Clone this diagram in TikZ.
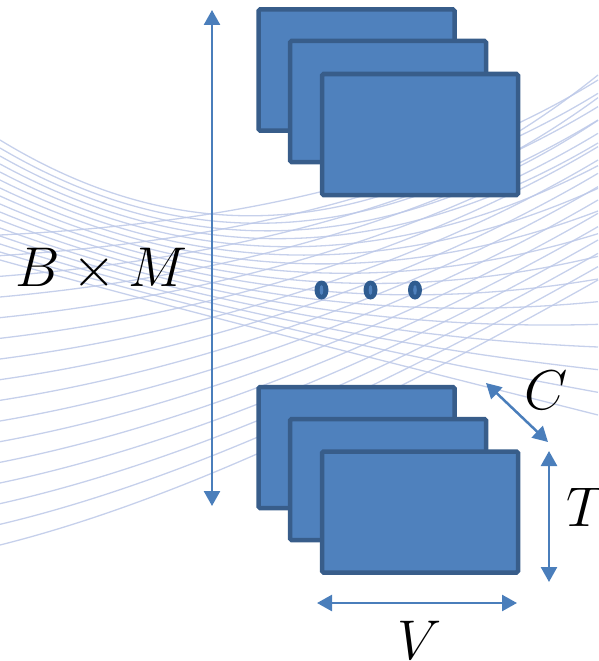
\RequirePackage{fix-cm}
\documentclass[tikz,border=0pt]{standalone}
\usetikzlibrary{arrows.meta,shapes.geometric}
\definecolor{boxfill}{HTML}{4F81BD}
\definecolor{boxline}{HTML}{385D8A}
\definecolor{arrowc}{HTML}{4A7EBB}
\definecolor{wave}{RGB}{188,200,232}
\definecolor{dotc}{HTML}{2F5C90}
\tikzset{
  frame/.style={draw=boxline, fill=boxfill, line width=4.5pt, rounded corners=1.5pt,
    minimum width=196pt, minimum height=121pt, inner sep=0pt},
  waveline/.style={draw=wave, line width=1.3pt, opacity=0.85},
  dimarrow/.style={draw=arrowc, line width=2.5pt,
    {Triangle[width=16pt,length=15pt]}-{Triangle[width=16pt,length=15pt]}},
  dotnode/.style={ellipse, fill=dotc, minimum width=14pt, minimum height=19pt, inner sep=0pt},
  biglabel/.style={font=\fontsize{56}{60}\selectfont, inner sep=0pt}
}
\begin{document}
\begin{tikzpicture}[x=1pt,y=-1pt]
\useasboundingbox (0,0) rectangle (598,661);
% background waves
\foreach \i in {0,...,15}{
  \pgfmathsetmacro\t{\i/15}
  \draw[waveline] (0,{140+120*\t}) .. controls (180,{250+60*\t}) and (380,{250+110*\t}) .. (598,{75+340*\t});
  \draw[waveline] (0,{235+310*\t}) .. controls (200,{225+270*\t}) and (420,{190+190*\t}) .. (598,{80+200*\t});
}
% top stack
\node[frame] (t1) at (356.5,70) {};
\node[frame] (t2) at (388,101.5) {};
\node[frame] (t3) at (420,134.5) {};
% bottom stack
\node[frame] (b1) at (356.5,447.5) {};
\node[frame] (b2) at (388,479.5) {};
\node[frame] (b3) at (420,512) {};
% dots
\foreach \n/\x in {d1/321.5, d2/370.5, d3/415}{
  \node[dotnode] (\n) at (\x,290) {};
  \fill[boxfill] (\n.center) ellipse (1.8pt and 5pt);
}
% dimension arrows
\coordinate (vtop) at (212,10);
\coordinate (vbot) at (212,506);
\draw[dimarrow] (vtop) -- (vbot);
\coordinate (ca) at (486,383);
\coordinate (cb) at (548,442);
\draw[dimarrow] (ca) -- (cb);
\coordinate (ta) at (549,451);
\coordinate (tb) at (549,582);
\draw[dimarrow] (ta) -- (tb);
\coordinate (va) at (317,603);
\coordinate (vb) at (517,603);
\draw[dimarrow] (va) -- (vb);
% labels
\node[biglabel] (lbm) at (101,270) {$B\times M$};
\node[biglabel] (lc) at (546,390) {$C$};
\node[biglabel] (lt) at (586,507) {$T$};
\node[biglabel] (lv) at (420,640) {$V$};
\end{tikzpicture}
\end{document}
